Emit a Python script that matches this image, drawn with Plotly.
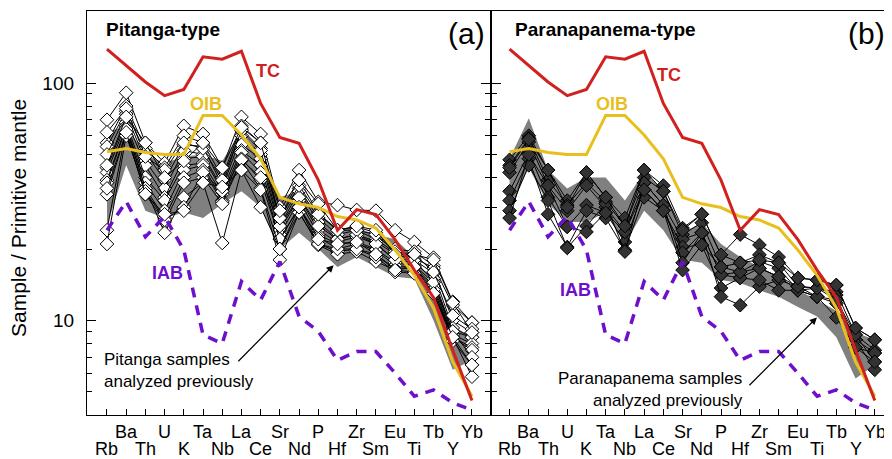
import math
import plotly.graph_objects as go

W, H = 892, 459
OFF = 8  # the page body adds an 8 px margin around the figure

elements = ["Rb", "Ba", "Th", "U", "K", "Ta", "Nb", "La", "Ce", "Sr",
            "Nd", "P", "Hf", "Zr", "Sm", "Eu", "Ti", "Tb", "Y", "Yb"]

# Reference compositions (primitive-mantle normalised)
tc = [139, 119, 101, 88.5, 94, 129, 126, 136, 82, 59, 55.7, 39, 24, 29.3, 27.9, 21.9, 16.3, 12.5, 7.5, 4.6]
oib = [51.4, 53, 51, 50, 50, 73, 73, 60.4, 48, 33, 31, 29.9, 27.4, 26.5, 24.5, 19.8, 15.5, 11.3, 6.7, 4.8]
iab = [24, 31.7, 22.5, 27.4, 19.8, 8.7, 8.0, 14.6, 12.2, 17.7, 10.4, 9.0, 6.8, 7.4, 7.4, 6.0, 4.8, 5.1, 4.5, 4.2]

# Field of previously analysed samples
pit_field_hi = [62, 66, 50, 46, 49, 50, 47, 63, 52, 33, 35, 28, 24.5, 24.5, 23, 22, 18.5, 14, 9.5, 8.5]
pit_field_lo = [25, 45, 29, 27, 28.5, 27, 31, 35, 30, 20, 23.4, 20, 16.8, 18.5, 16.8, 15.3, 15, 10, 6.2, 6.8]
par_field_hi = [48, 71, 43, 36, 40, 40, 32, 42, 35.5, 23.4, 25.8, 21, 18.5, 16.8, 15.3, 13.4, 12.2, 11, 8.9, 8.3]
par_field_lo = [30, 44, 31, 26, 26, 28.5, 21, 29, 24, 18, 17.5, 14.8, 14.4, 13.4, 12.6, 11.4, 10.4, 8.5, 5.7, 6.5]

# Pitanga-type samples
pitanga = [
    [70, 91, 56, 46, 66, 61, 44, 72, 61, 30, 43, 31.6, 30.6, 29.2, 29, 24, 21.4, 18.4, 12, 9.8],
    [56, 80, 53, 44, 60, 56, 40, 66, 56, 27, 39, 28.4, 24, 24.8, 23.4, 20, 19.5, 17, 11.6, 9.8],
    [54, 76, 51, 39, 55, 54, 37, 64, 53, 26, 36, 27, 23, 24, 22, 19.3, 18.4, 16.6, 10, 8.9],
    [50, 74, 47, 36, 52, 50, 36, 60, 50, 25, 35, 26, 22, 23, 21.5, 19, 18, 15.8, 9.3, 8.5],
    [44, 70, 45, 33, 48, 49, 35, 55, 48, 24, 33, 24, 21.4, 22.5, 21, 18, 17.5, 15, 9, 8.5],
    [42, 68, 40, 32, 45, 46, 34, 52, 45, 23, 32, 23, 21, 21.4, 20, 17.5, 17, 14.5, 8.7, 8],
    [39, 66, 38, 29, 43, 45, 32, 51, 42, 22, 30, 22.5, 20, 21, 19.8, 17, 16.8, 14, 8.5, 7.7],
    [38, 65, 36, 27, 40, 43, 31.6, 48, 39, 22, 30, 21, 19.5, 20, 19, 16.5, 16.8, 13.5, 8.5, 7.5],
    [34, 62, 34, 26, 38, 40, 31, 47, 36, 20, 28.5, 20.8, 19, 19.5, 17.7, 16.3, 16, 13, 8.2, 6.5],
    [24, 64, 36, 23.4, 33, 38, 21.2, 43, 35.5, 18, 28.5, 21, 20, 20, 18.5, 16, 15.8, 13, 8.5, 5.8],
    [21, 60, 35, 26.5, 30, 42, 35, 47.5, 40, 25, 33, 25, 22, 23, 21, 18, 18, 14.5, 9, 7],
    [62, 78, 49, 43, 56, 53, 39, 63, 52, 27, 37, 28, 24, 24, 23, 19.5, 19, 16, 10.5, 9.2],
    [45, 72, 56, 40, 47, 56, 44, 65, 56, 29, 39, 31, 24, 25, 24, 19, 19, 18, 11.9, 8.9],
    [36, 62, 34, 28, 29, 38, 36.5, 43, 30, 20, 30, 22, 21, 21.4, 19, 16.3, 16.8, 13, 8.5, 6.5],
]

# Paranapanema-type samples
paranapanema = [
    [47.5, 60, 43, 32, 42, 33, 27, 43, 37, 24.5, 28, 18.9, 23, 20.8, 18.5, 15.1, 14.8, 14.1, 9.3, 8.3],
    [45, 58.5, 39, 30.6, 38, 31.6, 25, 40, 35, 23, 25.8, 16.8, 17.5, 18.9, 17.5, 13.9, 13.7, 13.2, 8.7, 7.5],
    [42, 56.5, 37, 29, 37, 30, 23.6, 38, 30.6, 22, 23.4, 15.6, 16, 17.7, 16.6, 13.4, 12.6, 12.2, 8.3, 7.3],
    [35, 50.8, 33, 24.8, 30.6, 28.4, 21.4, 35.5, 29, 20.4, 20.8, 13.7, 15.1, 16.6, 15.3, 13.4, 13.7, 12.8, 7.7, 6.7],
    [32, 48, 28, 20.4, 29, 27, 19.8, 33, 29, 19.3, 23.4, 12.6, 11.6, 13.9, 14.8, 13.9, 12.6, 11.8, 8.3, 6.2],
    [29, 45, 32, 20.2, 25, 31, 19.5, 38, 30.6, 17.5, 23.4, 15.6, 15.1, 14.8, 13.4, 13.4, 12.6, 10.3, 7.7, 7.3],
    [27, 50, 37, 24.8, 23.6, 28.4, 23.6, 35.5, 29, 16.3, 20.8, 16.8, 16, 16.6, 15.3, 13.9, 13.7, 12.2, 8.7, 6.7],
    [44, 58, 43, 30, 42, 33, 25, 43, 35, 24, 28, 18.9, 17.5, 18, 17.5, 15.1, 14.8, 14.1, 9.3, 8.3],
]

xi = list(range(len(elements)))
FONT = "Arial, Liberation Sans, sans-serif"
RED, GOLD, PURPLE, GREY = "#d0211f", "#e8bf1e", "#6e0fcc", "#808080"
LW = 1.3


def fx(xw):
    return (xw - OFF) / W


def fy(yw):
    return 1 - (yw - OFF) / H


fig = go.Figure()


def add_panel(xa, ya, samples, hi, lo, mfill):
    fig.add_trace(go.Scatter(x=xi + xi[::-1], y=hi + lo[::-1], fill="toself",
                             fillcolor=GREY, line=dict(width=0), mode="lines",
                             xaxis=xa, yaxis=ya, hoverinfo="skip"))
    for s in samples:
        fig.add_trace(go.Scatter(x=xi, y=s, mode="lines+markers",
                                 line=dict(color="black", width=1),
                                 marker=dict(symbol="diamond", size=10.5, color=mfill,
                                             line=dict(color="black", width=1)),
                                 xaxis=xa, yaxis=ya))
    fig.add_trace(go.Scatter(x=xi, y=iab, mode="lines",
                             line=dict(color=PURPLE, width=3.5, dash="10px,8px"),
                             xaxis=xa, yaxis=ya))
    fig.add_trace(go.Scatter(x=xi, y=oib, mode="lines",
                             line=dict(color=GOLD, width=3), xaxis=xa, yaxis=ya))
    fig.add_trace(go.Scatter(x=xi, y=tc, mode="lines",
                             line=dict(color=RED, width=3), xaxis=xa, yaxis=ya))


add_panel("x", "y", pitanga, pit_field_hi, pit_field_lo, "white")
add_panel("x2", "y2", paranapanema, par_field_hi, par_field_lo, "#333333")

ydom = [fy(415), fy(11)]
yr = [math.log10(4.0), math.log10(201)]
xcommon = dict(showgrid=False, zeroline=False, showline=True, linecolor="black",
               linewidth=LW, mirror=True, ticks="inside", ticklen=6, tickwidth=1.2,
               tickcolor="black", tickmode="array", tickvals=xi, showticklabels=False)
ycommon = dict(type="log", range=yr, domain=ydom, showgrid=False, zeroline=False,
               showline=True, linecolor="black", linewidth=LW, mirror="ticks",
               ticks="inside", ticklen=9, tickwidth=1.2, tickcolor="black",
               dtick=1, exponentformat="none",
               minor=dict(ticks="inside", ticklen=5, tickwidth=1.2, tickcolor="black",
                          dtick="D1", showgrid=False),
               tickfont=dict(family=FONT, size=19, color="black"))

fig.update_layout(
    width=W, height=H, margin=dict(l=0, r=0, t=0, b=0),
    paper_bgcolor="white", plot_bgcolor="white", showlegend=False,
    xaxis=dict(domain=[fx(87), fx(490.4)], range=[-1.04, 19.96], anchor="y", **xcommon),
    xaxis2=dict(domain=[fx(491.7), min(1.0, fx(894))], range=[-0.93, 20.0], anchor="y2", **xcommon),
    yaxis=dict(anchor="x", showticklabels=True, ticklabelstandoff=8, **ycommon),
    yaxis2=dict(anchor="x2", showticklabels=False, **ycommon),
)

ann = []
# element labels in two rows
for xa in ("x", "x2"):
    for i, el in enumerate(elements):
        yrow = fy(432) if i % 2 == 1 else fy(449)
        ann.append(dict(x=i, y=yrow, xref=xa, yref="paper", text=el, showarrow=False,
                        font=dict(family=FONT, size=18, color="black"),
                        xanchor="center", yanchor="middle"))

ann += [
    dict(x=fx(19), y=fy(218), xref="paper", yref="paper", text="Sample / Primitive mantle",
         textangle=-90, showarrow=False, xanchor="center", yanchor="middle",
         font=dict(family=FONT, size=21, color="black")),
    dict(x=fx(104), y=fy(30), xref="paper", yref="paper", text="<b>Pitanga-type</b>",
         xanchor="left", yanchor="middle", showarrow=False,
         font=dict(family=FONT, size=19, color="black")),
    dict(x=fx(513), y=fy(30), xref="paper", yref="paper", text="<b>Paranapanema-type</b>",
         xanchor="left", yanchor="middle", showarrow=False,
         font=dict(family=FONT, size=19, color="black")),
    dict(x=fx(466), y=fy(34), xref="paper", yref="paper", text="(a)", showarrow=False,
         xanchor="center", yanchor="middle", font=dict(family=FONT, size=30, color="black")),
    dict(x=fx(866), y=fy(34), xref="paper", yref="paper", text="(b)", showarrow=False,
         xanchor="center", yanchor="middle", font=dict(family=FONT, size=30, color="black")),
    dict(x=fx(102), y=fy(370), xref="paper", yref="paper",
         text="Pitanga samples<br>analyzed previously", align="left", xanchor="left",
         yanchor="middle", showarrow=False, font=dict(family=FONT, size=17, color="black")),
    dict(x=fx(745), y=fy(389), xref="paper", yref="paper",
         text="Paranapanema samples<br>analyzed previously", align="right", xanchor="right",
         yanchor="middle", showarrow=False, font=dict(family=FONT, size=17, color="black")),
    # arrows
    dict(x=11.8, y=math.log10(17.1), ax=6.76, ay=math.log10(6.64), xref="x", yref="y",
         axref="x", ayref="y", text="", showarrow=True, arrowhead=2, arrowsize=1.2,
         arrowwidth=1.2, arrowcolor="black"),
    dict(x=15.99, y=math.log10(10.3), ax=12.4, ay=0.721, xref="x2", yref="y2",
         axref="x2", ayref="y2", text="", showarrow=True, arrowhead=2, arrowsize=1.2,
         arrowwidth=1.2, arrowcolor="black"),
]

for xa, ya, tcx, tcy, ox, oy, ix, iy in [("x", "y", 8.37, 2.05, 5.15, 1.912, 3.14, 1.2007),
                                          ("x2", "y2", 8.28, 2.034, 5.34, 1.912, 3.44, 1.129)]:
    ann.append(dict(x=tcx, y=tcy, xref=xa, yref=ya, text="<b>TC</b>", showarrow=False,
                    xanchor="center", yanchor="middle",
                    font=dict(family=FONT, size=18, color=RED)))
    ann.append(dict(x=ox, y=oy, xref=xa, yref=ya, text="<b>OIB</b>", showarrow=False,
                    xanchor="center", yanchor="middle",
                    font=dict(family=FONT, size=18, color=GOLD)))
    ann.append(dict(x=ix, y=iy, xref=xa, yref=ya, text="<b>IAB</b>", showarrow=False,
                    xanchor="center", yanchor="middle",
                    font=dict(family=FONT, size=18, color=PURPLE)))

fig.update_layout(annotations=ann)
fig.write_html("out.html")
